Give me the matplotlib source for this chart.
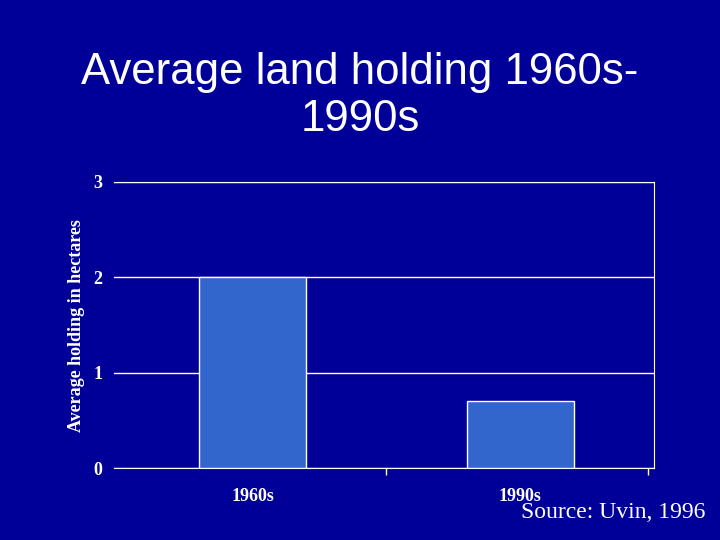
import matplotlib
matplotlib.use('Agg')
import matplotlib.pyplot as plt

categories = ['1960s', '1990s']
holding = [2.0, 0.7]
y_ticks = [0, 1, 2, 3]

bg = '#000099'
bar_color = '#3366CC'

fig = plt.figure(figsize=(7.2, 5.4), dpi=100, facecolor=bg)
ax = fig.add_axes([0.158, 0.133, 0.75, 0.53], facecolor=bg)

ax.bar(range(len(categories)), holding, width=0.4, color=bar_color,
       edgecolor='white', linewidth=1, zorder=3)
ax.set_xlim(-0.52, len(categories) - 0.5)
ax.set_ylim(0, 3)
ax.set_yticks(y_ticks)
ax.yaxis.grid(True, color='white', linewidth=1, zorder=1)
ax.set_xticks(range(len(categories)))
ax.set_xticklabels(categories)
ax.set_xticks([0.5, 1.48], minor=True)
ax.tick_params(axis='x', which='major', length=0, pad=14)
ax.tick_params(axis='x', which='minor', length=5, color='white', width=1)
ax.tick_params(axis='y', length=0, pad=8)
for lab in ax.get_xticklabels() + ax.get_yticklabels():
    lab.set_fontfamily('Liberation Serif')
    lab.set_fontweight('bold')
    lab.set_fontsize(13)
    lab.set_color('white')

for side in ['top', 'right', 'bottom']:
    ax.spines[side].set_color('white')
ax.spines['left'].set_visible(False)

ax.set_ylabel('Average holding in hectares', family='Liberation Serif',
              fontweight='bold', fontsize=13, color='white', labelpad=6)

fig.text(0.5, 0.822, 'Average land holding 1960s-\n1990s', ha='center', va='center',
         family='Liberation Sans', fontsize=31.5, color='white', linespacing=1.2)
fig.text(0.98, 0.05, 'Source: Uvin, 1996', ha='right', va='center',
         family='Liberation Serif', fontsize=17, color='white')

fig.savefig('out.png', facecolor=bg)
